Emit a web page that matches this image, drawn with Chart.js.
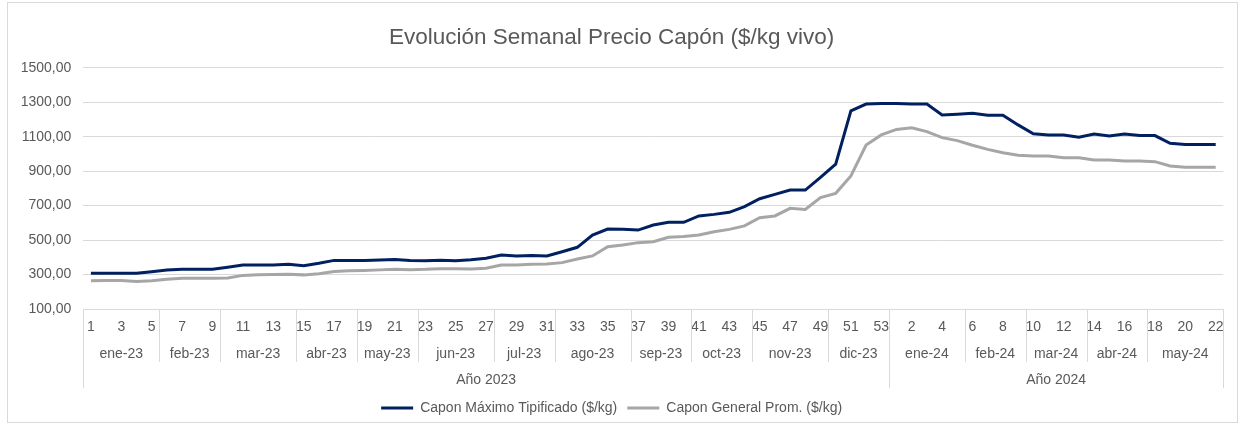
<!DOCTYPE html>
<html lang="es">
<head>
<meta charset="utf-8">
<title>Evolución Semanal Precio Capón</title>
<script src="https://cdn.jsdelivr.net/npm/chart.js@4.4.1/dist/chart.umd.min.js"></script>
<style>
  html, body { margin: 0; padding: 0; background: #fff; }
  #wrap { position: relative; width: 1243px; height: 425px; }
  #frame { position: absolute; left: 7px; top: 2px; width: 1229px; height: 419px; border: 1px solid #d9d9d9; pointer-events: none; }
  canvas { display: block; }
</style>
</head>
<body>
<div id="wrap">
  <canvas id="chart" width="1243" height="425"></canvas>
  <div id="frame"></div>
</div>
<script>
// Week numbers per year (category labels)
const weeks2023 = [1, 2, 3, 4, 5, 6, 7, 8, 9, 10, 11, 12, 13, 14, 15, 16, 17, 18, 19, 20,
    21, 22, 23, 24, 25, 26, 27, 28, 29, 30, 31, 32, 33, 34, 35, 36, 37, 38, 39, 40,
    41, 42, 43, 44, 45, 46, 47, 48, 49, 50, 51, 52, 53];
const weeks2024 = [1, 2, 3, 4, 5, 6, 7, 8, 9, 10, 11, 12, 13, 14, 15, 16, 17, 18, 19, 20, 21, 22];

// Month groups (label + number of weeks) and year groups
const months = ['ene-23', 'feb-23', 'mar-23', 'abr-23', 'may-23', 'jun-23', 'jul-23', 'ago-23',
    'sep-23', 'oct-23', 'nov-23', 'dic-23', 'ene-24', 'feb-24', 'mar-24', 'abr-24', 'may-24'];
const monthWeeks = [5, 4, 5, 4, 4, 5, 4, 5, 4, 4, 5, 4, 5, 4, 4, 4, 5];
const years = ['Año 2023', 'Año 2024'];
const yearWeeks = [53, 22];

// Prices ($/kg vivo)
const maxPrice2023 = [307, 307, 307, 307, 316, 326, 330, 330, 330, 342,
    355, 355, 356, 359, 351, 365, 382, 382, 382, 385,
    387, 382, 380, 383, 380, 386, 394, 413, 408, 411,
    408, 432, 458, 529, 564, 562, 558, 587, 603, 603,
    640, 649, 661, 694, 740, 765, 790, 790, 864, 941,
    1250, 1289, 1293];
const maxPrice2024 = [1293, 1289, 1289, 1226, 1230, 1235, 1224, 1224, 1168, 1117,
    1110, 1110, 1096, 1115, 1104, 1115, 1106, 1106, 1061, 1055, 1055, 1055];
const avgPrice2023 = [264, 266, 266, 260, 264, 272, 278, 278, 278, 280,
    295, 298, 300, 302, 298, 305, 318, 322, 324, 327,
    330, 328, 330, 334, 334, 332, 336, 355, 355, 359,
    361, 369, 390, 408, 461, 471, 485, 490, 516, 520,
    529, 548, 562, 582, 630, 640, 684, 678, 746, 771,
    872, 1051, 1110];
const avgPrice2024 = [1142, 1152, 1129, 1094, 1077, 1050, 1026, 1007, 992, 988,
    988, 978, 978, 964, 964, 958, 958, 955, 930, 922, 922, 922];

const FONT = '"Liberation Sans", Arial, sans-serif';
const TEXT = '#595959';
const LINE = '#d9d9d9';

const labels = [...weeks2023, ...weeks2024];

// Draws the month and year rows under the week numbers
const groupLabels = {
    id: 'groupLabels',
    afterDraw(chart) {
        const x = chart.scales.x;
        const ctx = chart.ctx;
        const step = x.getPixelForValue(1) - x.getPixelForValue(0);
        const edge = i => x.getPixelForValue(0) - step / 2 + i * step;
        const top = chart.chartArea.bottom;

        ctx.save();
        ctx.strokeStyle = LINE;
        ctx.lineWidth = 1;
        ctx.fillStyle = TEXT;
        ctx.font = '14px ' + FONT;
        ctx.textAlign = 'center';
        ctx.textBaseline = 'middle';

        const vline = (px, len) => {
            const xx = Math.round(px) + 0.5;
            ctx.beginPath();
            ctx.moveTo(xx, top);
            ctx.lineTo(xx, top + len);
            ctx.stroke();
        };

        let start = 0;
        months.forEach((m, k) => {
            const end = start + monthWeeks[k];
            ctx.fillText(m, (edge(start) + edge(end)) / 2, top + 45);
            vline(edge(end), 53);
            start = end;
        });

        start = 0;
        vline(edge(0), 79);
        years.forEach((y, k) => {
            const end = start + yearWeeks[k];
            ctx.fillText(y, (edge(start) + edge(end)) / 2, top + 71);
            vline(edge(end), 79);
            start = end;
        });
        ctx.restore();
    }
};

new Chart(document.getElementById('chart'), {
    type: 'line',
    data: {
        labels: labels,
        datasets: [{
            label: 'Capon Máximo Tipificado ($/kg)',
            data: [...maxPrice2023, ...maxPrice2024],
            borderColor: '#002060',
            backgroundColor: '#002060',
            borderWidth: 3,
            pointRadius: 0,
            tension: 0
        }, {
            label: 'Capon General Prom. ($/kg)',
            data: [...avgPrice2023, ...avgPrice2024],
            borderColor: '#a6a6a6',
            backgroundColor: '#a6a6a6',
            borderWidth: 3,
            pointRadius: 0,
            tension: 0
        }]
    },
    options: {
        responsive: false,
        animation: false,
        devicePixelRatio: 1,
        layout: { padding: { left: 0, right: 19.7, top: 0, bottom: 0 } },
        plugins: {
            title: {
                display: true,
                text: 'Evolución Semanal Precio Capón ($/kg vivo)',
                color: TEXT,
                font: { family: FONT, size: 22.5, weight: 'normal' },
                padding: { top: 24, bottom: 16.7 }
            },
            legend: {
                position: 'bottom',
                labels: {
                    color: TEXT,
                    font: { family: FONT, size: 14 },
                    boxWidth: 32,
                    boxHeight: 3,
                    padding: 10,
                    generateLabels: chart => Chart.defaults.plugins.legend.labels.generateLabels(chart)
                        .map(l => ({ ...l, lineWidth: 0 }))
                }
            },
            tooltip: { enabled: false }
        },
        scales: {
            x: {
                offset: true,
                grid: { display: false, drawTicks: false },
                border: { display: false },
                ticks: {
                    autoSkip: false,
                    maxRotation: 0,
                    minRotation: 0,
                    padding: 10,
                    color: TEXT,
                    font: { family: FONT, size: 14 },
                    callback: (v, i) => (i % 2 === 0 ? labels[i] : '')
                },
                afterFit: s => { s.height = 82; }
            },
            y: {
                min: 100,
                max: 1500,
                grid: { color: LINE, drawTicks: false },
                border: { display: false },
                ticks: {
                    stepSize: 200,
                    padding: 12,
                    color: TEXT,
                    font: { family: FONT, size: 14 },
                    callback: v => v.toFixed(2).replace('.', ',')
                },
                afterFit: s => { s.width = 83.3; }
            }
        }
    },
    plugins: [groupLabels]
});
</script>
</body>
</html>
